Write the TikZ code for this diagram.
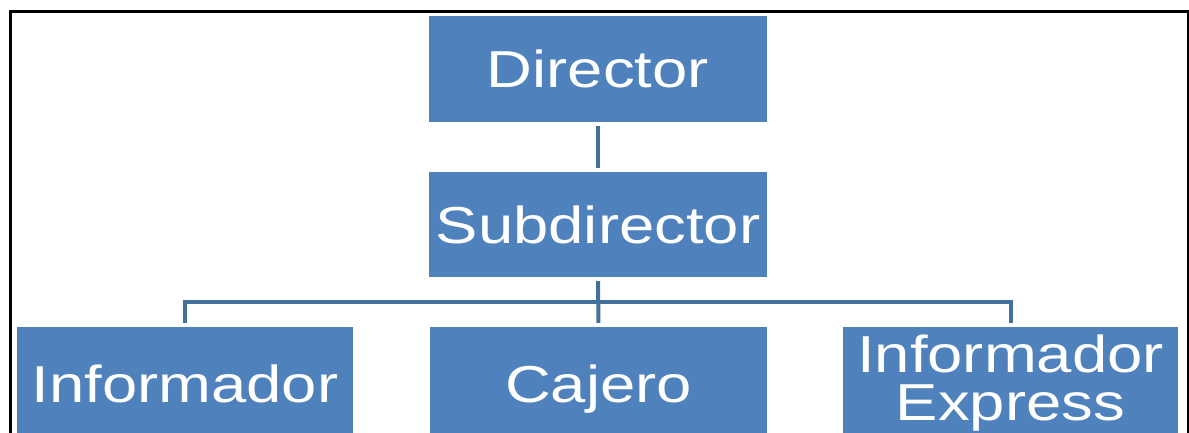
\documentclass[tikz,border=0pt]{standalone}
\usepackage{fontspec}
\setmainfont{Liberation Sans}
\definecolor{boxblue}{HTML}{4F81BD}
\definecolor{linkblue}{HTML}{41719C}
\newcommand{\wide}[1]{\scalebox{1.22}[1]{#1}}
\tikzstyle{post}=[rectangle,fill=boxblue,text=white,inner sep=0pt,font=\fontsize{52}{48}\selectfont]
\tikzstyle{solo}=[text height=37pt,text depth=0pt]
\tikzstyle{link}=[draw=linkblue,line width=4pt,shorten <=4pt,shorten >=4pt]

\begin{document}
\begin{tikzpicture}[x=1pt,y=-1pt]
\useasboundingbox (0,0) rectangle (1189,432);
\clip (0,0) rectangle (1189,432);
\draw[line width=3pt] (10.7,11) rectangle (1188,480);

\node[post,solo,minimum width=338pt,minimum height=106pt] at (598,69) (dir) {\wide{Director}};
\node[post,solo,minimum width=338pt,minimum height=105pt] at (598,224.5) (sub) {\wide{Subdirector}};
\node[post,solo,minimum width=336pt,minimum height=113pt] at (185,383.5) (inf) {\wide{Informador}};
\node[post,solo,minimum width=337pt,minimum height=113pt] at (598.5,383.5) (caj) {\wide{Cajero}};
\node[post,align=center,minimum width=335pt,minimum height=113pt] at (1010.5,383.5) (exp) {\wide{Informador}\\\wide{Express}};

\coordinate (bus) at (598,302);
\draw[link] (dir) -- (sub);
\draw[link] (sub) -- (caj);
\draw[link] (inf) |- (bus) -| (exp);

\end{tikzpicture}
\end{document}
